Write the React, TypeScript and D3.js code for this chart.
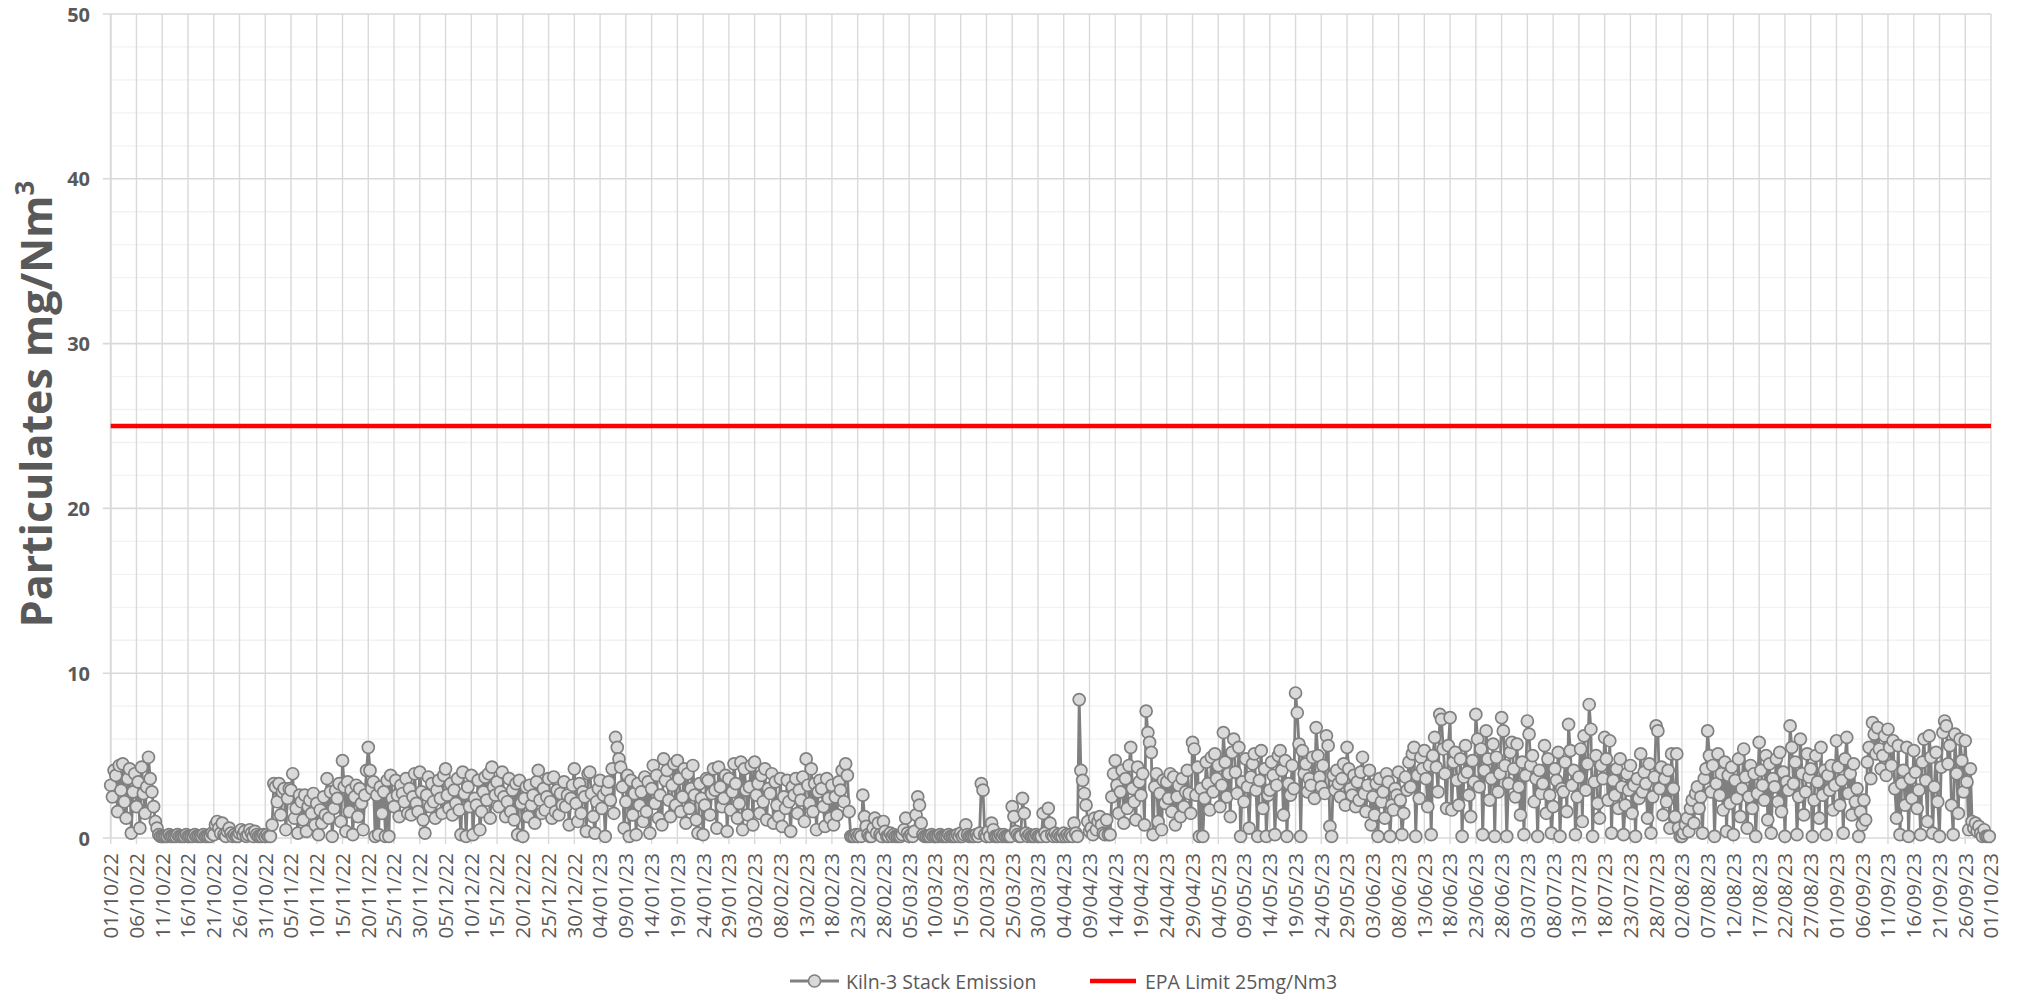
import React from "react";
import * as d3 from "d3";

// ---------- DATA (three readings per day, 8-hourly) ----------
const monthStarts = [
  "2022-10-01", "2022-11-01", "2022-12-01", "2023-01-01", "2023-02-01", "2023-03-01",
  "2023-04-01", "2023-05-01", "2023-06-01", "2023-07-01", "2023-08-01", "2023-09-01",
];

const oct22 = [
  [3.2,2.5,4.1],[3.8,1.6,4.4],[2.9,4.5,2.2],[1.2,3.6,4.2],[0.3,2.8,3.9],[1.9,3.4,0.6],[4.3,2.7,1.5],[3.1,4.9,3.6],[2.8,1.9,1.0],[0.6,0.2,0.1],
  [0.1,0.1,0.1],[0.1,0.2,0.1],[0.1,0.1,0.1],[0.2,0.1,0.1],[0.1,0.1,0.2],[0.1,0.1,0.1],[0.1,0.2,0.1],[0.1,0.1,0.1],[0.2,0.1,0.1],[0.1,0.1,0.3],
  [0.2,0.8,1.0],[0.6,0.3,0.9],[0.2,0.1,0.4],[0.6,0.3,0.1],[0.2,0.1,0.1],[0.3,0.5,0.2],[0.4,0.1,0.2],[0.5,0.3,0.1],[0.4,0.2,0.1],[0.1,0.1,0.2],[0.1,0.2,0.1],
];
const nov22 = [
  [0.1,0.8,3.3],[3.1,2.2,3.3],[1.4,2.8,3.0],[0.5,2.4,3.0],[2.9,3.9,1.2],[1.8,0.3,2.6],[2.2,1.1,2.6],[0.4,1.9,2.3],[1.5,2.7,0.8],[2.1,0.2,1.7],
  [0.9,2.5,1.4],[3.6,1.2,2.8],[0.1,1.8,2.9],[2.4,3.3,1.0],[4.7,3.1,0.4],[3.4,1.6,2.9],[0.2,2.5,3.2],[1.3,3.0,2.1],[0.5,2.6,4.1],[5.5,4.1,3.0],
  [3.4,0.1,2.6],[0.2,3.1,1.5],[2.8,0.1,3.5],[0.1,3.8,2.4],[1.9,3.5,2.6],[1.3,3.2,2.7],[2.2,3.6,1.5],[3.0,1.4,2.5],[3.9,2.1,1.6],[4.0,2.8,1.1],
];
const dec22 = [
  [0.3,2.6,3.7],[1.9,3.3,2.2],[1.2,2.9,3.5],[2.4,1.5,3.8],[4.2,2.6,1.8],[3.3,1.4,2.9],[2.1,3.6,1.7],[0.2,4.0,2.7],[0.1,3.1,1.9],[3.8,0.2,2.4],
  [2.0,3.5,0.5],[1.6,2.8,3.7],[2.3,3.9,1.2],[4.3,3.1,2.6],[3.4,1.9,2.8],[4.0,2.5,1.3],[2.2,3.6,1.6],[2.9,1.1,3.3],[0.2,3.5,2.1],[0.1,2.4,3.1],
  [1.3,3.2,2.0],[2.6,0.9,3.4],[4.1,2.3,1.5],[3.0,1.7,2.5],[3.6,2.2,1.2],[3.7,1.6,2.9],[1.4,2.7,2.0],[3.4,1.9,2.6],[0.8,2.4,3.2],[4.2,2.1,1.0],[3.3,1.5,2.8],
];
const jan23 = [
  [2.5,0.4,3.9],[4.0,2.7,1.3],[0.3,2.2,3.0],[3.5,1.8,2.6],[0.1,2.9,3.4],[2.3,4.2,1.5],[6.1,5.5,4.8],[4.3,3.1,0.6],[2.2,3.8,0.1],[3.5,1.4,2.7],
  [0.2,3.3,2.0],[2.8,1.0,3.7],[1.6,3.4,0.3],[3.0,4.4,2.1],[3.8,1.2,2.6],[0.8,4.8,3.5],[4.1,2.3,1.3],[3.2,4.5,2.0],[4.7,3.6,1.6],[2.5,4.2,0.9],
  [3.9,1.8,3.0],[4.4,2.6,1.1],[0.3,3.3,2.4],[0.2,2.0,3.6],[3.5,1.4,2.7],[4.2,2.9,0.6],[4.3,3.1,1.9],[2.4,3.8,0.4],[3.6,1.7,2.8],[4.5,3.3,1.2],[2.1,4.6,0.5],
];
const feb23 = [
  [4.2,2.9,1.4],[3.1,4.4,0.8],[4.6,2.6,3.3],[1.5,3.8,2.2],[4.2,1.1,3.0],[2.7,3.9,0.9],[3.4,2.0,1.3],[3.6,0.7,2.5],[1.8,3.5,2.2],[0.4,3.1,2.6],
  [3.6,1.5,2.9],[2.3,3.7,1.0],[4.8,3.2,2.1],[4.2,1.6,3.3],[0.5,2.8,3.5],[3.0,1.9,0.7],[3.6,2.4,1.2],[3.2,0.8,2.5],[1.4,3.4,2.9],[4.1,2.2,4.5],
  [3.8,1.6,0.1],[0.1,0.1,0.2],[0.1,0.2,0.1],[2.6,1.3,0.7],[0.2,0.1,0.1],[0.6,1.2,0.3],[0.9,0.2,0.1],[1.0,0.4,0.1],
];
const mar23 = [
  [0.1,0.3,0.1],[0.2,0.1,0.1],[0.1,0.1,0.2],[0.5,1.2,0.3],[0.1,0.2,0.1],[0.4,1.4,2.5],[2.0,0.9,0.2],[0.1,0.1,0.1],[0.1,0.2,0.1],[0.1,0.1,0.1],
  [0.2,0.1,0.1],[0.1,0.1,0.2],[0.1,0.1,0.1],[0.1,0.2,0.1],[0.3,0.1,0.2],[0.8,0.2,0.1],[0.1,0.1,0.1],[0.2,0.1,0.3],[3.3,2.9,0.2],[0.1,0.4,0.1],
  [0.9,0.5,0.1],[0.1,0.1,0.2],[0.1,0.2,0.1],[0.1,0.1,0.1],[1.9,1.3,0.4],[0.2,0.1,0.1],[2.4,1.5,0.3],[0.1,0.2,0.1],[0.1,0.1,0.2],[0.1,0.1,0.1],[1.5,0.3,0.1],
];
const apr23 = [
  [1.8,0.9,0.2],[0.1,0.3,0.1],[0.2,0.1,0.1],[0.3,0.1,0.2],[0.1,0.2,0.1],[0.9,0.3,0.1],[8.4,4.1,3.5],[2.7,2.0,1.0],[0.4,0.6,0.2],[1.2,0.5,1.0],
  [1.3,0.8,0.3],[0.2,1.1,0.2],[0.2,2.5,3.9],[4.7,3.2,1.5],[2.8,4.1,0.9],[3.6,1.8,4.4],[5.5,3.0,2.2],[1.1,4.3,3.4],[2.6,3.9,0.8],[7.7,6.4,5.8],
  [5.2,0.2,3.1],[3.9,1.0,2.7],[0.5,3.5,2.1],[3.4,2.4,3.9],[1.6,3.7,0.8],[2.5,3.2,1.3],[3.6,1.9,2.8],[4.1,2.7,1.5],[5.8,5.4,2.6],[4.3,0.1,3.0],
];
const may23 = [
  [0.1,2.4,4.6],[3.3,1.7,4.9],[2.8,5.1,3.6],[4.4,1.9,3.2],[6.4,4.6,2.5],[3.9,1.3,5.2],[6.0,4.0,2.7],[5.5,0.1,3.4],[2.2,4.8,3.1],[0.6,3.7,4.5],
  [5.1,2.9,0.1],[3.5,5.3,1.8],[4.2,0.1,2.6],[2.9,4.6,3.8],[0.2,3.2,5.0],[5.3,4.1,1.4],[4.7,0.1,3.3],[2.6,4.4,3.0],[8.8,7.6,5.7],[0.1,5.3,3.9],
  [4.5,2.8,3.6],[3.2,4.9,2.4],[6.7,5.0,3.7],[3.1,4.4,2.7],[6.2,5.6,0.7],[0.1,3.8,2.9],[4.1,3.3,2.5],[3.6,4.5,2.0],[5.5,4.2,3.0],[2.6,3.8,1.9],[3.4,2.3,4.0],
];
const jun23 = [
  [4.9,2.7,1.6],[3.2,4.1,0.8],[2.5,1.4,3.3],[0.1,3.6,2.2],[2.8,1.2,3.9],[3.4,0.1,2.0],[1.7,3.0,2.6],[4.0,2.3,0.2],[1.5,3.7,2.9],[4.6,3.1,5.1],
  [5.5,0.1,3.8],[2.4,4.9,4.2],[5.3,3.6,1.9],[4.4,0.2,5.0],[6.1,4.3,2.8],[7.5,7.2,5.4],[3.9,1.8,5.6],[7.3,1.7,4.6],[5.2,3.5,2.0],[4.8,0.1,3.7],
  [5.6,4.0,2.6],[1.3,4.7,3.4],[7.5,6.0,3.1],[5.4,0.2,4.1],[6.5,4.8,2.3],[3.6,5.7,0.1],[4.9,2.8,3.9],[7.3,6.5,4.4],[0.1,3.3,5.2],[5.8,4.2,2.5],
];
const jul23 = [
  [5.7,3.1,1.4],[4.6,0.2,3.8],[7.1,6.3,4.4],[5.0,2.2,3.6],[0.1,4.1,2.7],[3.3,5.6,1.5],[4.8,2.6,0.3],[1.9,4.2,3.5],[5.2,0.1,3.0],[2.8,4.6,1.6],
  [6.9,5.3,3.2],[4.1,0.2,2.5],[3.7,5.4,1.0],[6.2,2.9,4.5],[8.1,6.6,0.1],[3.4,5.0,2.1],[1.2,4.4,3.6],[6.1,4.8,2.3],[5.9,0.3,3.5],[2.6,4.2,1.8],
  [4.8,3.1,0.2],[2.0,3.9,2.9],[4.4,1.5,3.2],[0.1,3.6,2.4],[5.1,2.8,4.0],[3.3,1.2,4.5],[0.3,2.5,3.7],[6.8,6.5,3.0],[4.3,1.4,3.6],[2.2,4.1,0.6],[5.1,3.0,1.3],
];
const aug23 = [
  [5.1,0.6,0.1],[0.1,0.3,0.8],[1.2,0.4,1.8],[2.3,0.9,2.7],[3.1,1.8,2.5],[0.3,3.6,4.2],[6.5,5.0,2.8],[4.4,0.1,3.3],[5.1,2.6,3.9],[1.7,4.6,0.4],
  [3.8,2.1,4.3],[0.2,3.5,2.4],[4.8,1.3,3.0],[5.4,3.7,0.6],[2.5,4.4,1.8],[3.9,0.1,2.7],[5.8,4.1,3.2],[2.3,5.0,1.1],[4.5,0.3,3.6],[3.1,4.8,2.2],
  [5.2,1.6,4.0],[0.1,3.4,2.9],[6.8,5.5,3.3],[4.6,0.2,2.5],[6.0,3.9,1.4],[2.8,5.1,3.7],[4.2,0.1,2.3],[5.0,3.4,1.2],[5.5,2.6,4.1],[0.2,3.8,2.9],[4.4,1.7,3.2],
];
const sep23 = [
  [5.9,4.3,2.0],[3.5,0.3,4.8],[6.1,2.7,3.9],[1.4,4.5,2.2],[3.0,0.1,1.6],[0.8,2.3,1.1],[4.6,5.5,3.6],[7.0,6.3,5.1],[6.7,5.4,4.2],[5.0,6.2,3.8],
  [6.6,5.5,4.4],[5.9,3.0,1.2],[5.6,0.2,3.3],[4.1,2.0,5.5],[0.1,3.6,2.4],[5.3,4.0,1.8],[2.9,0.2,4.6],[6.0,3.5,1.0],[6.2,4.9,0.3],[3.1,5.2,2.2],
  [0.1,4.3,6.4],[7.1,6.8,4.5],[5.6,2.0,0.2],[6.3,3.9,1.5],[6.0,4.7,2.8],[5.9,3.4,0.5],[4.2,1.0,0.6],[0.9,0.4,0.7],[0.3,0.1,0.5],[0.1,0.1,0.1],
];

const months = [oct22, nov22, dec22, jan23, feb23, mar23, apr23, may23, jun23, jul23, aug23, sep23];

const yMajorTicks = [0, 10, 20, 30, 40, 50];
const yMinorTicks = [2, 4, 6, 8, 12, 14, 16, 18, 22, 24, 26, 28, 32, 34, 36, 38, 42, 44, 46, 48];
const epaLimit = 25;
const seriesLabel = "Kiln-3 Stack Emission";
const limitLabel = "EPA Limit 25mg/Nm3";
const axisStart = "2022-10-01";
const axisEnd = "2023-10-01";
const tickStepDays = 5;

// ---------- LAYOUT ----------
const W = 2022;
const H = 995;
const PL = 110.7;
const PR = 1991;
const PT = 14;
const PB = 838;
const FONT = "'Open Sans', 'Segoe UI', 'DejaVu Sans', sans-serif";
const TXT = "#595959";
const GRID = "#d9d9d9";
const GRID_MINOR = "#f2f2f2";
const SERIES = "#808080";
const MARKER_FILL = "#d9d9d9";

type Pt = { t: Date; v: number };

export default function App() {
  const start = new Date(axisStart + "T00:00:00Z");
  const end = new Date(axisEnd + "T00:00:00Z");
  const x = d3.scaleUtc().domain([start, end]).range([PL, PR]);
  const y = d3.scaleLinear().domain([0, 50]).range([PB, PT]);

  const points: Pt[] = [];
  months.forEach((m, mi) => {
    const ms = new Date(monthStarts[mi] + "T00:00:00Z");
    m.forEach((day, di) => {
      day.forEach((v, k) => {
        points.push({ t: d3.utcHour.offset(d3.utcDay.offset(ms, di), k * 8), v });
      });
    });
  });

  const nDays = d3.utcDay.count(start, end);
  const xTicks = d3.range(0, nDays + 1, tickStepDays).map((d) => d3.utcDay.offset(start, d));
  const fmt = d3.utcFormat("%d/%m/%y");

  const line = d3
    .line<Pt>()
    .x((d) => x(d.t))
    .y((d) => y(d.v));

  const legY = 981;

  return (
    <svg
      width={W}
      height={H}
      style={{ position: "absolute", left: 0, top: 0, background: "#fff" }}
      fontFamily={FONT}
    >
      <rect x={0} y={0} width={W} height={H} fill="#fff" />
      {/* minor horizontal gridlines */}
      {yMinorTicks.map((t) => (
        <line key={"mn" + t} x1={PL} x2={PR} y1={y(t)} y2={y(t)} stroke={GRID_MINOR} strokeWidth={1.3} />
      ))}
      {/* vertical gridlines */}
      {xTicks.map((t, i) => (
        <line key={"vg" + i} x1={x(t)} x2={x(t)} y1={PT} y2={PB + 6} stroke={GRID} strokeWidth={1.4} />
      ))}
      {/* major horizontal gridlines */}
      {yMajorTicks.map((t) => (
        <g key={"mj" + t}>
          <line x1={PL - 8} x2={PR} y1={y(t)} y2={y(t)} stroke={GRID} strokeWidth={1.6} />
          <text
            x={90}
            y={y(t)}
            textAnchor="end"
            dominantBaseline="central"
            fontSize={20}
            fontWeight="bold"
            fill={TXT}
          >
            {t}
          </text>
        </g>
      ))}
      {/* left axis */}
      <line x1={PL} x2={PL} y1={PT} y2={PB} stroke={GRID} strokeWidth={1.8} />

      {/* x labels */}
      {xTicks.map((t, i) => (
        <text
          key={"xl" + i}
          transform={`translate(${x(t)},${853}) rotate(-90)`}
          textAnchor="end"
          dy="0.36em"
          fontSize={20.5}
          fill={TXT}
        >
          {fmt(t)}
        </text>
      ))}

      {/* y axis title */}
      <text
        transform={`translate(52,${404}) rotate(-90)`}
        textAnchor="middle"
        fontSize={43}
        fontWeight="bold"
        fill={TXT}
      >
        Particulates mg/Nm
        <tspan dy={-18} fontSize={26}>
          3
        </tspan>
      </text>

      {/* data series */}
      <path d={line(points) || ""} fill="none" stroke={SERIES} strokeWidth={2.8} strokeLinejoin="round" />
      {points.map((p, i) => (
        <circle key={"c" + i} cx={x(p.t)} cy={y(p.v)} r={6} fill={MARKER_FILL} stroke={SERIES} strokeWidth={1.7} />
      ))}

      {/* EPA limit */}
      <line x1={PL} x2={PR} y1={y(epaLimit)} y2={y(epaLimit)} stroke="#ff0000" strokeWidth={4.5} />

      {/* legend */}
      <line x1={790} x2={839} y1={legY} y2={legY} stroke={SERIES} strokeWidth={2.8} />
      <circle cx={814.5} cy={legY} r={6} fill={MARKER_FILL} stroke={SERIES} strokeWidth={1.7} />
      <text x={846} y={legY} dominantBaseline="central" fontSize={19.5} fill={TXT}>
        {seriesLabel}
      </text>
      <line x1={1090} x2={1136} y1={legY} y2={legY} stroke="#ff0000" strokeWidth={4.5} />
      <text x={1145} y={legY} dominantBaseline="central" fontSize={19.5} fill={TXT}>
        {limitLabel}
      </text>
    </svg>
  );
}
